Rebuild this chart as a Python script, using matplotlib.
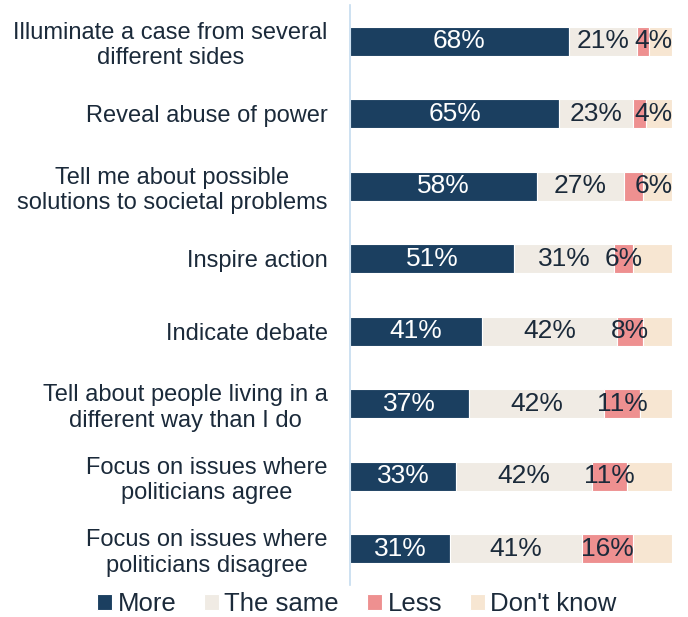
"""
Stacked horizontal bars: what people want from journalism.
"""

import matplotlib
matplotlib.use("Agg")
import matplotlib.pyplot as plt
import numpy as np


categories = [
    "Illuminate a case from several\ndifferent sides",
    "Reveal abuse of power",
    "Tell me about possible\nsolutions to societal problems",
    "Inspire action",
    "Indicate debate",
    "Tell about people living in a\ndifferent way than I do",
    "Focus on issues where\npoliticians agree",
    "Focus on issues where\npoliticians disagree",
]

more = [68, 65, 58, 51, 41, 37, 33, 31]
same = [21, 23, 27, 31, 42, 42, 42, 41]
less = [4, 4, 6, 6, 8, 11, 11, 16]
dont_know = [7, 8, 9, 12, 9, 10, 14, 12]

series_names = ["More", "The same", "Less", "Don't know"]
colors = ["#1b3f60", "#f0ebe4", "#ee9090", "#f7e6d2"]
label_colors = ["white", "#1b2a3a", "#1b2a3a", None]

# narrow "Less" labels that would collide with the neighbour get pushed to the bar end
push_right = {0, 1, 2}

plt.rcParams["font.family"] = ["Liberation Sans", "DejaVu Sans"]
text_color = "#1b2a3a"

fig = plt.figure(figsize=(6.88, 6.17), dpi=100)
ax = fig.add_axes([350 / 688, 1 - 585 / 617, 322 / 688, 580 / 617])

y = np.arange(len(categories))
left = np.zeros(len(categories))
for k, (values, name, color, lc) in enumerate(zip([more, same, less, dont_know],
                                                  series_names, colors, label_colors)):
    values = np.array(values, dtype=float)
    ax.barh(y, values, left=left, height=0.4, color=color,
            edgecolor="white", linewidth=0.8, label=name)
    if lc is not None:
        for i, (yi, l, v) in enumerate(zip(y, left, values)):
            if k == 2 and i in push_right:
                total = more[i] + same[i] + less[i] + dont_know[i]
                ax.text(total + 0.3, yi, f"{int(v)}%", ha="right", va="center",
                        fontsize=19, color=lc)
            else:
                ax.text(l + v / 2, yi, f"{int(v)}%", ha="center", va="center",
                        fontsize=19, color=lc)
    left += values

ax.set_xlim(0, left.max())
ax.set_ylim(len(categories) - 0.5, -0.5)
ax.set_yticks(y)
ax.set_yticklabels(categories, fontsize=17, color=text_color)
for lab in ax.get_yticklabels():
    lab.set_multialignment("center")
ax.tick_params(axis="y", length=0, pad=16)
ax.set_xticks([])

for side in ["top", "right", "bottom"]:
    ax.spines[side].set_visible(False)
ax.spines["left"].set_color("#c5dcef")
ax.spines["left"].set_linewidth(1.2)

fig.legend(loc="center", bbox_to_anchor=(357 / 688, 1 - 604 / 617),
           ncol=4, frameon=False, fontsize=18.5, handlelength=0.58,
           handleheight=0.55, handletextpad=0.2, columnspacing=1.1,
           labelcolor=text_color)

fig.savefig("out.png", dpi=100)
